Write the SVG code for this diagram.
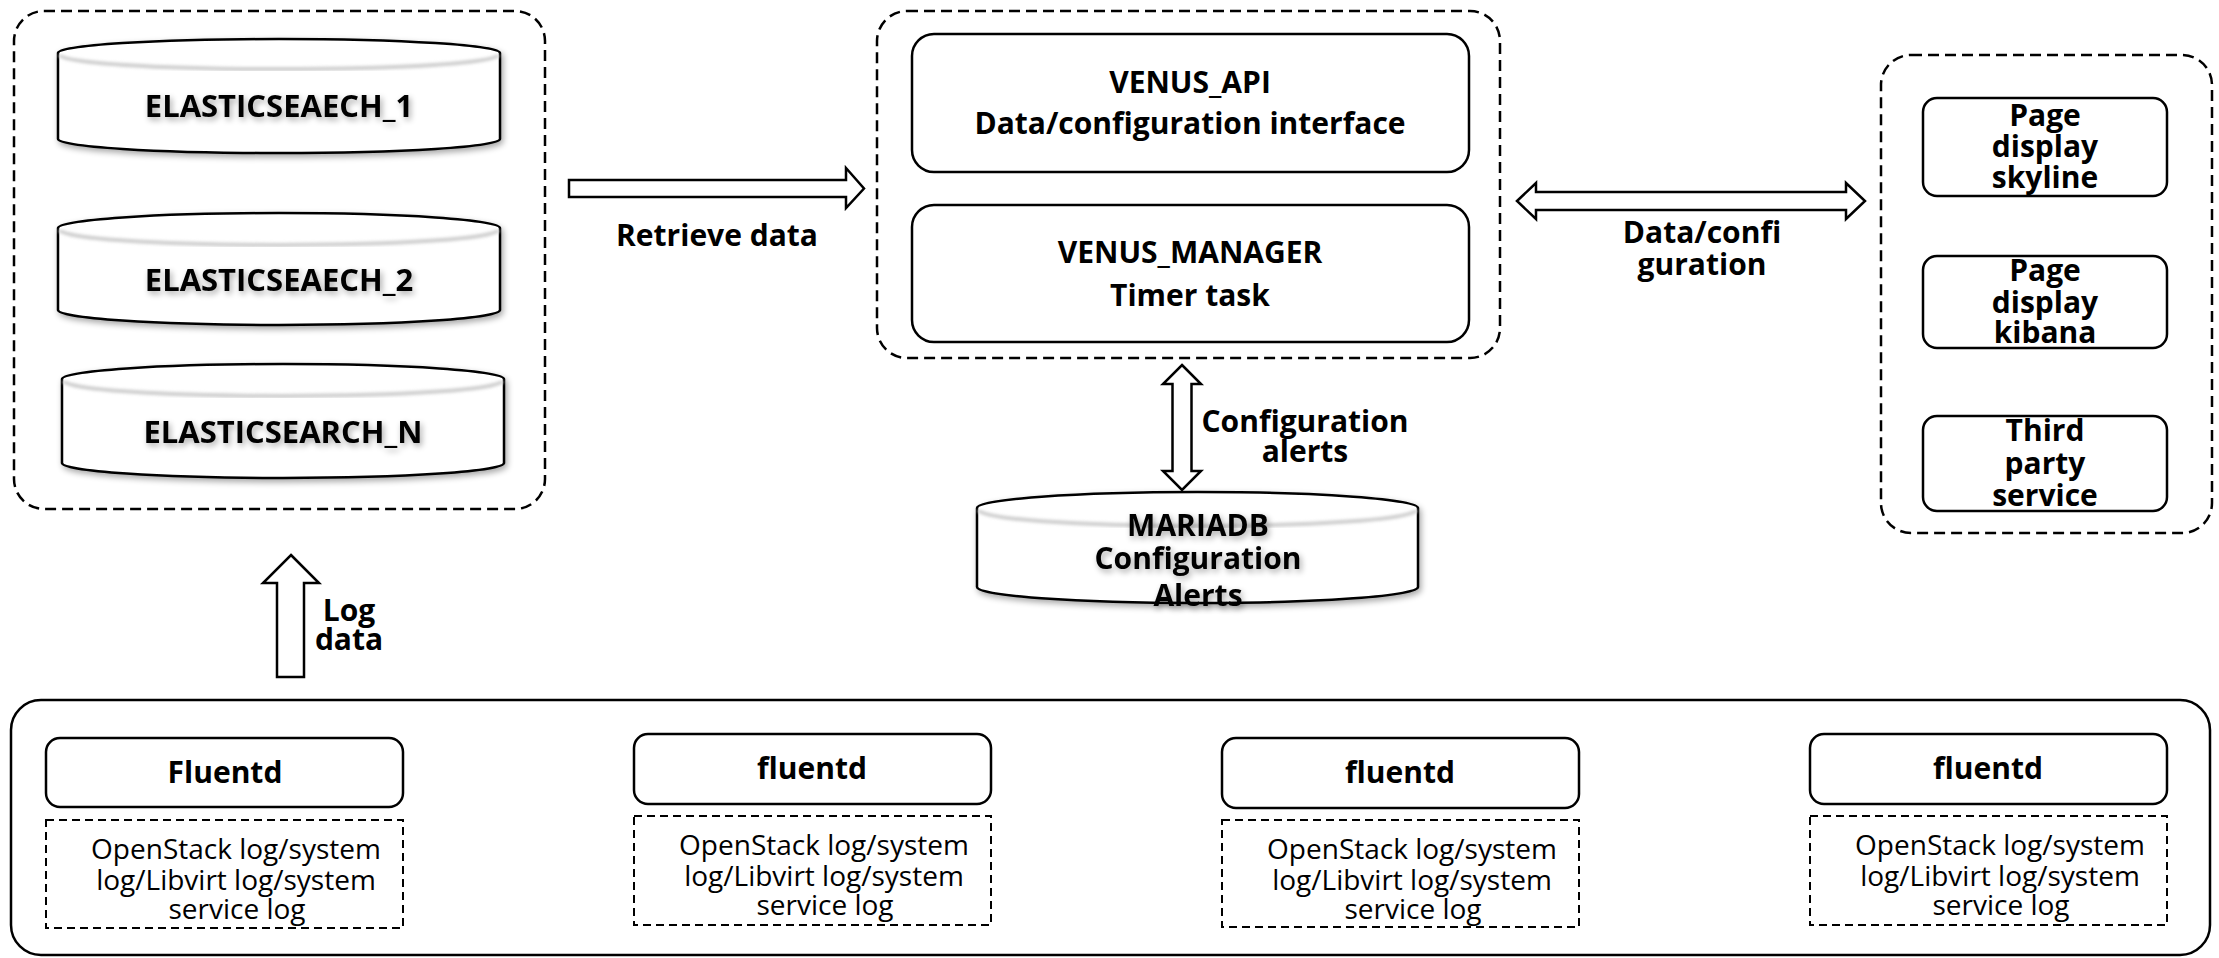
<svg xmlns="http://www.w3.org/2000/svg" width="2219" height="958" viewBox="0 0 2219 958">
<style>
.bg{fill:#fff}
.dash{fill:none;stroke:#000;stroke-width:2.5;stroke-dasharray:11 6}
.sdash{fill:none;stroke:#000;stroke-width:2;stroke-dasharray:8 5}
.box{fill:#fff;stroke:#000;stroke-width:2.5}
.cyl{fill:#fff;stroke:#000;stroke-width:2.5}
.rim{fill:none;stroke:#cfcfcf;stroke-width:4}
.arr{fill:#fff;stroke:#000;stroke-width:2.5;stroke-linejoin:miter}
.b{font-family:"Open Sans","Noto Sans","Liberation Sans",sans-serif;font-weight:bold;font-size:30px;text-anchor:middle;fill:#000}
.bl{font-size:31px}
.n{font-family:"Open Sans","Noto Sans","Liberation Sans",sans-serif;font-size:28px;text-anchor:middle;fill:#000}
</style>
<defs>
<filter id="sh" x="-20%" y="-40%" width="140%" height="180%">
<feGaussianBlur in="SourceAlpha" stdDeviation="3"/>
<feOffset dx="2" dy="3" result="o"/>
<feComponentTransfer><feFuncA type="linear" slope="0.35"/></feComponentTransfer>
<feMerge><feMergeNode/><feMergeNode in="SourceGraphic"/></feMerge>
</filter>
<filter id="bl"><feGaussianBlur stdDeviation="1.5"/></filter>
</defs>
<rect class="bg" x="0" y="0" width="2219" height="958"/>

<g id="es-cluster">
<rect class="dash" x="14" y="11" width="531" height="498" rx="30"/>
</g>
<g id="es1">
<path class="cyl" filter="url(#sh)" d="M58,53 A221,14 0 0 1 500,53 L500,139 A221,14 0 0 1 58,139 Z"/>
<path class="rim" filter="url(#bl)" d="M60,55 A219,14 0 0 0 498,55"/>
<text class="b bl" x="279" y="117" filter="url(#sh)">ELASTICSEAECH_1</text>
</g>
<g id="es2">
<path class="cyl" filter="url(#sh)" d="M58,228 A221,15 0 0 1 500,228 L500,310 A221,15 0 0 1 58,310 Z"/>
<path class="rim" filter="url(#bl)" d="M60,230 A219,15 0 0 0 498,230"/>
<text class="b bl" x="279" y="291" filter="url(#sh)">ELASTICSEAECH_2</text>
</g>
<g id="esn">
<path class="cyl" filter="url(#sh)" d="M62,379 A221,15 0 0 1 504,379 L504,463 A221,15 0 0 1 62,463 Z"/>
<path class="rim" filter="url(#bl)" d="M64,381 A219,15 0 0 0 502,381"/>
<text class="b bl" x="283" y="443" filter="url(#sh)">ELASTICSEARCH_N</text>
</g>

<g id="venus">
<rect class="dash" x="877" y="11" width="623" height="347" rx="30"/>
</g>
<g id="venus-api">
<rect class="box" x="912" y="34" width="557" height="138" rx="22"/>
<text class="b" x="1190" y="93">VENUS_API</text>
<text class="b" x="1190" y="134">Data/configuration interface</text>
</g>
<g id="venus-manager">
<rect class="box" x="912" y="205" width="557" height="137" rx="22"/>
<text class="b" x="1190" y="263">VENUS_MANAGER</text>
<text class="b" x="1190" y="306">Timer task</text>
</g>

<g id="frontends">
<rect class="dash" x="1881" y="55" width="331" height="478" rx="30"/>
</g>
<g id="skyline">
<rect class="box" x="1923" y="98" width="244" height="98" rx="14"/>
<text class="b" x="2045" y="126">Page</text>
<text class="b" x="2045" y="157">display</text>
<text class="b" x="2045" y="188">skyline</text>
</g>
<g id="kibana">
<rect class="box" x="1923" y="256" width="244" height="92" rx="14"/>
<text class="b" x="2045" y="281">Page</text>
<text class="b" x="2045" y="313">display</text>
<text class="b" x="2045" y="343">kibana</text>
</g>
<g id="third-party">
<rect class="box" x="1923" y="416" width="244" height="95" rx="14"/>
<text class="b" x="2045" y="441">Third</text>
<text class="b" x="2045" y="474">party</text>
<text class="b" x="2045" y="506">service</text>
</g>

<g id="mariadb">
<path class="cyl" filter="url(#sh)" d="M977,508 A220.5,16 0 0 1 1418,508 L1418,587 A220.5,16 0 0 1 977,587 Z"/>
<path class="rim" filter="url(#bl)" d="M979,510 A218.5,16 0 0 0 1416,510"/>
<text class="b" x="1198" y="536" filter="url(#sh)">MARIADB</text>
<text class="b" x="1198" y="569" filter="url(#sh)">Configuration</text>
<text class="b" x="1198" y="606" filter="url(#sh)">Alerts</text>
</g>

<g id="hosts">
<rect class="box" x="11" y="700" width="2199" height="255" rx="30"/>
</g>
<g id="host1">
<rect class="box" x="46" y="738" width="357" height="69" rx="14"/>
<text class="b" x="225" y="783">Fluentd</text>
<rect class="sdash" x="46" y="820" width="357" height="108"/>
<text class="n" x="236" y="859">OpenStack log/system</text>
<text class="n" x="236" y="890">log/Libvirt log/system</text>
<text class="n" x="237" y="919">service log</text>
</g>
<g id="host2">
<rect class="box" x="634" y="734" width="357" height="70" rx="14"/>
<text class="b" x="812" y="779">fluentd</text>
<rect class="sdash" x="634" y="816" width="357" height="109"/>
<text class="n" x="824" y="855">OpenStack log/system</text>
<text class="n" x="824" y="886">log/Libvirt log/system</text>
<text class="n" x="825" y="915">service log</text>
</g>
<g id="host3">
<rect class="box" x="1222" y="738" width="357" height="70" rx="14"/>
<text class="b" x="1400" y="783">fluentd</text>
<rect class="sdash" x="1222" y="820" width="357" height="107"/>
<text class="n" x="1412" y="859">OpenStack log/system</text>
<text class="n" x="1412" y="890">log/Libvirt log/system</text>
<text class="n" x="1413" y="919">service log</text>
</g>
<g id="host4">
<rect class="box" x="1810" y="734" width="357" height="70" rx="14"/>
<text class="b" x="1988" y="779">fluentd</text>
<rect class="sdash" x="1810" y="816" width="357" height="109"/>
<text class="n" x="2000" y="855">OpenStack log/system</text>
<text class="n" x="2000" y="886">log/Libvirt log/system</text>
<text class="n" x="2001" y="915">service log</text>
</g>

<g id="connectors">
<polygon class="arr" points="569,180 846,180 846,168 864,188.5 846,208 846,197 569,197"/>
<text class="b" x="717" y="246">Retrieve data</text>
<polygon class="arr" points="1517,201 1536,183 1536,192 1846,192 1846,183 1865,201 1846,219 1846,210 1536,210 1536,219"/>
<text class="b" x="1702" y="243">Data/confi</text>
<text class="b" x="1702" y="275">guration</text>
<polygon class="arr" points="1182,365 1201,384 1191.5,384 1191.5,471 1201,471 1182,490 1163,471 1172.5,471 1172.5,384 1163,384"/>
<text class="b" x="1305" y="432">Configuration</text>
<text class="b" x="1305" y="462">alerts</text>
<polygon class="arr" points="291,555 319,583 304,583 304,677 277,677 277,583 263,583"/>
<text class="b" x="349" y="621">Log</text>
<text class="b" x="349" y="650">data</text>
</g>
</svg>
